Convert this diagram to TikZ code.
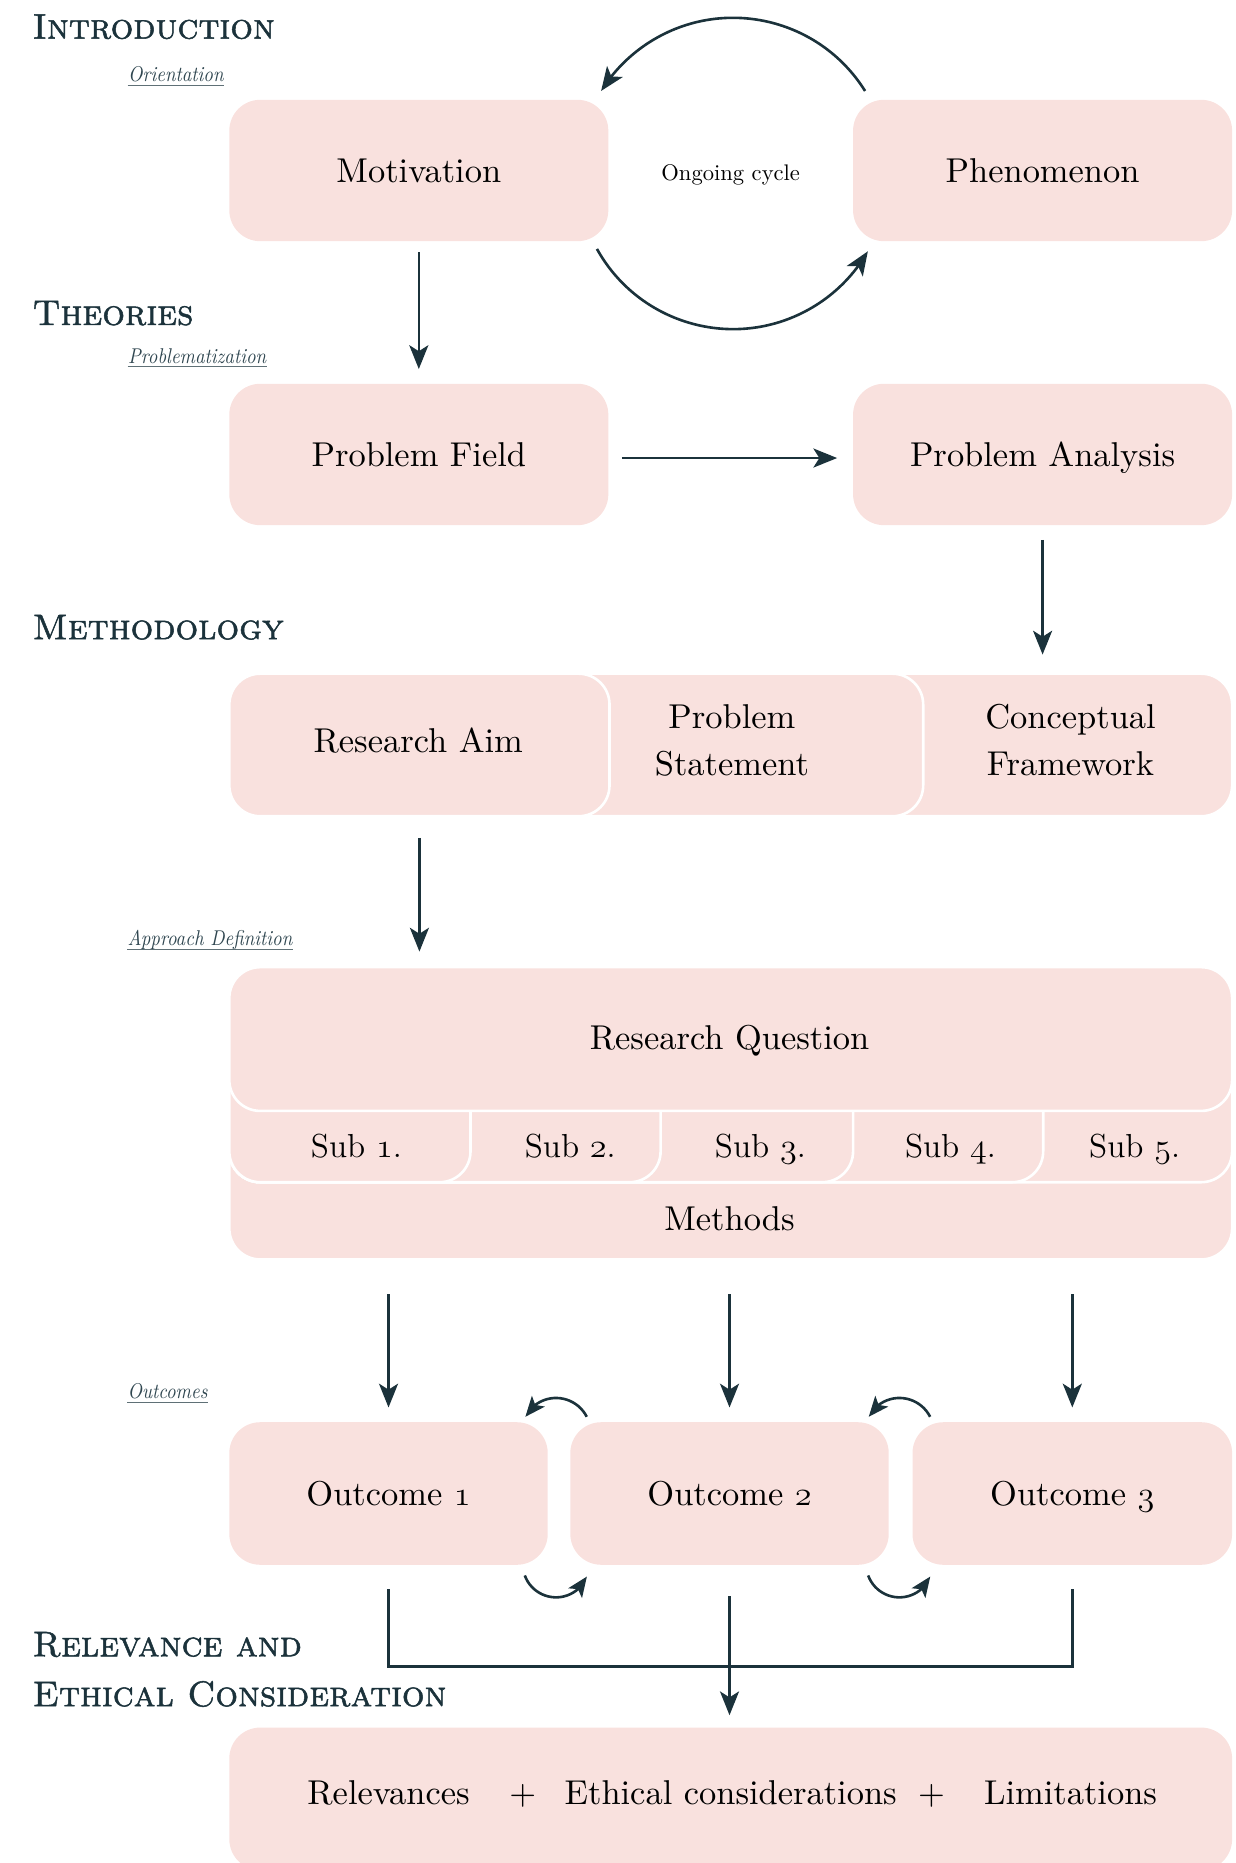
\documentclass[tikz,border=0pt]{standalone}
\usepackage{fontspec}
\usetikzlibrary{arrows.meta,bending,calc}

\definecolor{boxpink}{RGB}{249,225,222}
\definecolor{ink}{RGB}{27,50,59}
\definecolor{labelink}{RGB}{47,70,80}
\definecolor{ruleink}{RGB}{95,112,118}

% heading small caps (slightly heavier), box text and narrow italic tags
\newfontfamily\headfam{lmromancaps10-regular.otf}[FakeBold=1.4]
\newfontfamily\tagfam{lmroman10-italic.otf}[FakeStretch=0.88]
\newfontfamily\boxfam{lmroman10-regular.otf}

\newcommand\boxfont{\boxfam\fontsize{14.5}{20}\selectfont}
\newcommand\subfont{\fontsize{14}{18}\selectfont}
\newcommand\headfont{\headfam\fontsize{15}{18}\selectfont}
\newcommand\tagfont{\tagfam\fontsize{9}{11}\selectfont}
\newcommand\cyclefont{\fontsize{9.5}{11}\selectfont}
\newcommand\osn[1]{{\usefont{OML}{cmm}{m}{it}#1}}

\tikzset{
  box/.style={fill=boxpink, rounded corners=13pt, inner sep=0pt,
    minimum height=59.5pt, font=\boxfont, text=black,
    text height=10pt, text depth=0pt},
  tier/.style={box, draw=white, line width=1.1pt},
  txt/.style={inner sep=0pt, font=\boxfont, text=black,
    text height=10pt, text depth=0pt},
  subtxt/.style={txt, font=\subfont},
  txttwo/.style={inner sep=0pt, font=\boxfont, text=black, align=center},
  head/.style={anchor=base west, inner sep=0pt, text=ink, font=\headfont},
  tag/.style={anchor=base west, inner sep=0pt, text=labelink, font=\tagfont},
  arr/.style={draw=ink, line width=1.1pt,
    -{Stealth[length=10pt,width=8pt,inset=2.5pt]}},
  smallarr/.style={draw=ink, line width=1.1pt,
    -{Stealth[length=8.5pt,width=7pt,inset=2pt]}},
  link/.style={draw=ink, line width=1.15pt},
  rule/.style={draw=ruleink, line width=0.55pt},
}

\begin{document}
\begin{tikzpicture}[x=0.5pt,y=0.5pt]
\useasboundingbox (0,0) rectangle (1040,-1568);
\clip (0,0) rectangle (1040,-1568);

% ---------- section headings and tags ----------
\node[head] (hintro) at (27,-32.5) {Introduction};
\node[tag] (torient) at (107.5,-68.7) {Orientation};
\draw[rule] ([yshift=-1.5pt]torient.base west) -- ([yshift=-1.5pt]torient.base east);

\node[head] (htheo) at (27,-273.5) {Theories};
\node[tag] (tprob) at (107.5,-305.7) {Problematization};
\draw[rule] ([yshift=-1.5pt]tprob.base west) -- ([yshift=-1.5pt]tprob.base east);

\node[head] (hmeth) at (27,-538) {Methodology};
\node[tag] (tappr) at (107,-796) {Approach Definition};
\draw[rule] ([yshift=-1.5pt]tappr.base west) -- ([yshift=-1.5pt]tappr.base east);

\node[tag] (tout) at (107,-1177.4) {Outcomes};
\draw[rule] ([yshift=-1.5pt]tout.base west) -- ([yshift=-1.5pt]tout.base east);

\node[head] (hrel) at (27,-1394) {Relevance and};
\node[head] (heth) at (27,-1436) {Ethical Consideration};

% ---------- introduction: ongoing cycle ----------
\node[box, minimum width=159.5pt] (mot) at (352.5,-143.5) {Motivation};
\node[box, minimum width=159.5pt] (phe) at (877.5,-143.5) {Phenomenon};
\coordinate (cc) at (617,-146);
\node[inner sep=0pt, font=\cyclefont] (cyc) at (615,-147) {Ongoing cycle};
\draw[arr] ([shift={(32:65.5pt)}]cc) arc[start angle=32, end angle=148, radius=65.5pt];
\draw[arr] ([shift={(-151:65.5pt)}]cc) arc[start angle=-151, end angle=-30, radius=65.5pt];

% ---------- theories ----------
\node[box, minimum width=159.5pt] (pf) at (352.5,-382.5) {Problem Field};
\node[box, minimum width=159.5pt] (pa) at (877.5,-382.5) {Problem Analysis};
\draw[arr] ([yshift=-4.5pt]mot.south) -- ([yshift=6pt]pf.north);
\draw[arr, shorten <=5.5pt, shorten >=6.5pt] ([yshift=-1.5pt]pf.east) -- ([yshift=-1.5pt]pa.west);

% ---------- methodology: stacked tabs ----------
\node[tier, minimum width=422pt, minimum height=60pt] (cfbox) at (615,-627) {};
\node[tier, minimum width=292pt, minimum height=60pt] (psbox) at (485,-627) {};
\node[tier, minimum width=160pt, minimum height=60pt] (rabox) at (353,-627) {};
\node[txt] (ra) at (352,-623) {Research Aim};
\node[txttwo] (ps) at (616,-623) {Problem\\Statement};
\node[txttwo] (cf) at (901,-623) {Conceptual\\Framework};
\draw[arr] ([yshift=-6pt]pa.south) -- ([yshift=7.5pt]pa.south |- cfbox.north);

% ---------- research question, sub-questions and methods ----------
\node[tier, minimum width=422pt, minimum height=80pt] (methbox) at (615,-980) {};
\node[tier, minimum width=422pt, minimum height=72.5pt] (s5box) at (615,-922.5) {};
\node[tier, minimum width=342.5pt, minimum height=72.5pt] (s4box) at (535.5,-922.5) {};
\node[tier, minimum width=262.5pt, minimum height=72.5pt] (s3box) at (455.5,-922.5) {};
\node[tier, minimum width=181.5pt, minimum height=72.5pt] (s2box) at (374.5,-922.5) {};
\node[tier, minimum width=101.5pt, minimum height=72.5pt] (s1box) at (294.5,-922.5) {};
\node[tier, minimum width=422pt, minimum height=60.5pt] (rq) at (615,-874.5) {};
\node[txt] (rqt) at (614,-873) {Research Question};
\node[subtxt] (s1) at (300,-964) {Sub \osn{1}.};
\node[subtxt] (s2) at (480,-964) {Sub \osn{2}.};
\node[subtxt] (s3) at (640,-964) {Sub \osn{3}.};
\node[subtxt] (s4) at (800,-964) {Sub \osn{4}.};
\node[subtxt] (s5) at (955,-964) {Sub \osn{5}.};
\node[txt] (meth) at (614,-1026) {Methods};
\draw[arr] ([yshift=-8.5pt]rabox.south) -- ([yshift=6pt]rabox.south |- rq.north);

% ---------- outcomes ----------
\node[box, minimum width=134pt, minimum height=60pt] (o1) at (327,-1257) {Outcome \osn{1}};
\node[box, minimum width=134pt, minimum height=60pt] (o2) at (614,-1257) {Outcome \osn{2}};
\node[box, minimum width=134.5pt, minimum height=60pt] (o3) at (902.5,-1257) {Outcome \osn{3}};
\foreach \o in {o1,o2,o3}
  \draw[arr] ([yshift=-14pt]\o |- methbox.south) -- ([yshift=6pt]\o.north);

% exchange between neighbouring outcomes
\coordinate (c12t) at ($(o1.north east)!0.5!(o2.north west)+(-1.25pt,-4.5pt)$);
\coordinate (c12b) at ($(o1.south east)!0.5!(o2.south west)+(-1.25pt,0.5pt)$);
\coordinate (c23t) at ($(o2.north east)!0.5!(o3.north west)+(-0.5pt,-4.5pt)$);
\coordinate (c23b) at ($(o2.south east)!0.5!(o3.south west)+(-0.5pt,0.5pt)$);
\foreach \c in {c12t,c23t}
  \draw[smallarr] ([shift={(27:14.5pt)}]\c) arc[start angle=27, end angle=153, radius=14.5pt];
\foreach \c in {c12b,c23b}
  \draw[smallarr] ([shift={(200:14pt)}]\c) arc[start angle=200, end angle=338, radius=14pt];

% ---------- relevance and ethics ----------
\node[box, minimum width=422pt, minimum height=60pt] (fin) at (615,-1514) {};
\node[txt] (rel) at (327,-1509) {Relevances};
\node[txt] (p1) at (440,-1509) {+};
\node[txt] (eth) at (615,-1509) {Ethical considerations};
\node[txt] (p2) at (784,-1509) {+};
\node[txt] (lim) at (901,-1509) {Limitations};

\coordinate (join) at ([yshift=-42.5pt]o2.south);
\draw[link] ([yshift=-10pt]o1.south) |- (join) -| ([yshift=-10pt]o3.south);
\draw[arr] ([yshift=-13pt]o2.south) -- ([yshift=5pt]o2 |- fin.north);
\end{tikzpicture}
\end{document}
